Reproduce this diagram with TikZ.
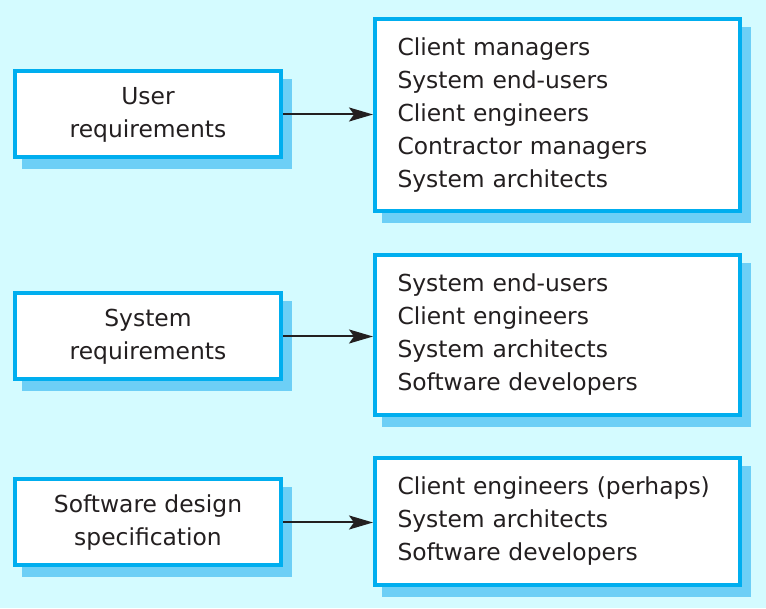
\documentclass[tikz,border=0pt]{standalone}
\usepackage{fontspec}
\setmainfont{DejaVu Sans}
\usetikzlibrary{arrows.meta,shadows}
\definecolor{cLine}{HTML}{00AEEF}
\definecolor{cShade}{HTML}{6DCFF6}
\definecolor{cPage}{HTML}{D4FBFF}
\definecolor{cText}{HTML}{231F20}
\tikzset{
  box/.style={draw=cLine,fill=white,line width=4pt,text=cText,
              font=\fontsize{23.4}{33}\selectfont,
              drop shadow={shadow xshift=9pt,shadow yshift=-10pt,
                           fill=cShade,draw=cShade,line width=4pt,opacity=1}},
  doc/.style={box,minimum width=266pt,minimum height=86pt,align=center,inner sep=4pt},
  who/.style={box,minimum width=365pt,minimum height=#1,text width=320pt,
              align=left,inner xsep=22.5pt},
  flow/.style={-{Stealth[length=24pt,width=14pt,inset=5pt]},line width=2pt,draw=cText},
}

\begin{document}
\begin{tikzpicture}[x=1pt,y=1pt]

\path[fill=cPage,use as bounding box] (0,0) rectangle (766,608);

% ---------------------------------------------------------------- USER
\node[doc] (ureq) at (148,493.5) {User\\requirements};

\node[who=192pt] (uwho) at (557.5,493) {%
Client managers\\
System end-users\\
Client engineers\\
Contractor managers\\
System architects};

% ---------------------------------------------------------------- SYSTEM
\node[doc] (sreq) at (148,271.5) {System\\requirements};

\node[who=160pt] (swho) at (557.5,273) {%
System end-users\\
Client engineers\\
System architects\\
Software developers};

% ---------------------------------------------------------------- DESIGN
\node[doc] (dspec) at (148,85.5) {Software design\\specification};

\node[who=127pt] (dwho) at (557.5,86.5) {%
Client engineers (perhaps)\\
System architects\\
Software developers};

% ---------------------------------------------------------------- arrows
\draw[flow] (ureq.east) -- (ureq.east -| uwho.west);
\draw[flow] (sreq.east) -- (sreq.east -| swho.west);
\draw[flow] (dspec.east) -- (dspec.east -| dwho.west);

\end{tikzpicture}
\end{document}
